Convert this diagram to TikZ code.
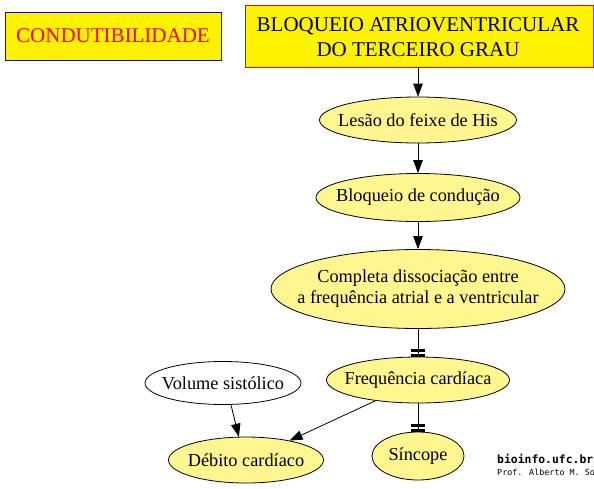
\documentclass[tikz,border=0pt]{standalone}
\usepackage{fontspec}
\setmainfont{Liberation Serif}
\newfontfamily\monofont{DejaVu Sans Mono}
\usetikzlibrary{shapes.geometric,arrows.meta}
\definecolor{khakiA}{HTML}{FFF68F}
\begin{document}
\begin{tikzpicture}[x=1pt,y=-1pt,
  ell/.style={ellipse, draw, line width=0.8pt, fill=khakiA, inner sep=0pt},
  lbl/.style={inner sep=0pt, font=\fontsize{18.3}{21}\selectfont, align=center},
  box/.style={rectangle, draw, line width=1pt, fill=yellow, inner sep=0pt,
    font=\fontsize{21}{25}\selectfont, align=center},
  arr/.style={-{Triangle[length=13pt,width=9.5pt]}, line width=0.8pt},
  tee/.style={-{Rectangle[length=3pt,width=14pt,sep=1.5pt]Rectangle[length=3pt,width=14pt]}, line width=0.8pt},
  credit/.style={inner sep=0pt, anchor=base west}]
\useasboundingbox (0,0) rectangle (594,488);
\fill[white] (0,0) rectangle (594,488);

\node[box, draw=blue, text=red, minimum width=216pt, minimum height=48pt] (cond) at (113,36) {CONDUTIBILIDADE};
\node[box, draw=red, minimum width=348pt, minimum height=62pt] (top) at (419,36) {};
\node[box, draw=none, fill=none] (toptxt) at (418,37.5) {BLOQUEIO ATRIOVENTRICULAR\\DO TERCEIRO GRAU};

\node[ell, minimum width=197pt, minimum height=46pt, label={[lbl]center:Lesão do feixe de His}] (les) at (418,120) {};
\node[ell, minimum width=204pt, minimum height=48pt, label={[lbl]center:Bloqueio de condução}] (blo) at (418,197.5) {};
\node[ell, minimum width=294pt, minimum height=79pt, label={[lbl]center:{Completa dissociação entre\\a frequência atrial e a ventricular}}] (com) at (418,289) {};
\node[ell, minimum width=183pt, minimum height=46pt, label={[lbl]center:Frequência cardíaca}] (fre) at (418,380) {};
\node[ell, fill=white, minimum width=156pt, minimum height=43pt, label={[lbl]center:Volume sistólico}] (vol) at (223,383) {};
\node[ell, minimum width=155pt, minimum height=46pt, label={[lbl]center:Débito cardíaco}] (deb) at (246,460) {};
\node[ell, minimum width=92pt, minimum height=48pt, label={[lbl]center:Síncope}] (sin) at (418,456) {};

\draw[arr] (top.south -| les.north) -- (les.north);
\draw[arr] (les) -- (blo);
\draw[arr] (blo) -- (com);
\draw[tee] (com) -- (fre);
\draw[tee] (fre) -- (sin);
\draw[arr] (vol.-70) -- (deb.107);
\draw[arr] (fre.206) -- (deb.24);

\node[credit, font=\monofont\bfseries\fontsize{11.4}{12}\selectfont] (site) at (497,463) {bioinfo.ufc.br};
\node[credit, font=\monofont\fontsize{8.4}{9}\selectfont] (prof) at (497,475) {Prof. Alberto M. So};
\end{tikzpicture}
\end{document}
